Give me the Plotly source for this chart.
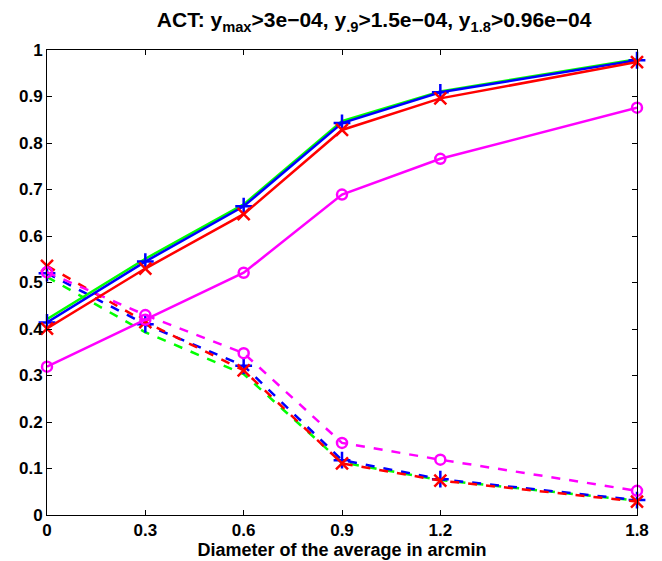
import plotly.graph_objects as go

x_vals = [0, 0.3, 0.6, 0.9, 1.2, 1.8]
x_ticks = [0, 0.3, 0.6, 0.9, 1.2, 1.8]
x_tick_text = ["0", "0.3", "0.6", "0.9", "1.2", "1.8"]
y_ticks = [0, 0.1, 0.2, 0.3, 0.4, 0.5, 0.6, 0.7, 0.8, 0.9, 1]
y_tick_text = ["0", "0.1", "0.2", "0.3", "0.4", "0.5", "0.6", "0.7", "0.8", "0.9", "1"]

green_solid = [0.421, 0.551, 0.668, 0.847, 0.911, 0.980]
blue_solid = [0.414, 0.545, 0.664, 0.843, 0.909, 0.978]
red_solid = [0.401, 0.530, 0.647, 0.828, 0.896, 0.974]
magenta_solid = [0.319, 0.420, 0.521, 0.689, 0.766, 0.876]

green_dashed = [0.512, 0.393, 0.303, 0.113, 0.075, 0.031]
blue_dashed = [0.520, 0.410, 0.321, 0.118, 0.077, 0.032]
red_dashed = [0.536, 0.415, 0.311, 0.111, 0.074, 0.029]
magenta_dashed = [0.522, 0.430, 0.348, 0.155, 0.119, 0.052]

title_text = "ACT: y<sub>max</sub>>3e\u221204, y<sub>.9</sub>>1.5e\u221204, y<sub>1.8</sub>>0.96e\u221204"
x_label = "Diameter of the average in arcmin"

series = [
    (green_dashed, "#00ff00", "dash", None),
    (blue_dashed, "#0000ff", "dash", "cross-thin-open"),
    (red_dashed, "#ff0000", "dash", "x-thin-open"),
    (magenta_dashed, "#ff00ff", "dash", "circle-open"),
    (green_solid, "#00ff00", "solid", None),
    (blue_solid, "#0000ff", "solid", "cross-thin-open"),
    (red_solid, "#ff0000", "solid", "x-thin-open"),
    (magenta_solid, "#ff00ff", "solid", "circle-open"),
]

fig = go.Figure()
for ys, color, dash, sym in series:
    if sym is None:
        fig.add_trace(go.Scatter(x=x_vals, y=ys, mode="lines",
                                 line=dict(color=color, width=2.5, dash=dash),
                                 showlegend=False, cliponaxis=False))
    else:
        size = 10 if sym == "circle-open" else 12
        fig.add_trace(go.Scatter(x=x_vals, y=ys, mode="lines+markers",
                                 line=dict(color=color, width=2.5, dash=dash),
                                 marker=dict(symbol=sym, size=size,
                                             line=dict(color=color, width=2.5), color=color),
                                 showlegend=False, cliponaxis=False))

axis_common = dict(
    showgrid=False, zeroline=False, showline=True, linecolor="black", linewidth=1,
    mirror="ticks", ticks="inside", ticklen=5, tickcolor="black",
    tickfont=dict(family="Liberation Sans", size=17, color="black", weight="bold"),
)

fig.update_layout(
    width=662, height=561,
    paper_bgcolor="white", plot_bgcolor="white",
    margin=dict(l=39, r=33, t=42, b=54),
    title=dict(text=title_text, x=367 / 662, xanchor="center",
               y=1 - 12 / 561, yanchor="middle", xref="paper",
               font=dict(family="Liberation Sans", size=21, color="black", weight="bold")),
    xaxis=dict(range=[0, 1.8], tickvals=x_ticks, ticktext=x_tick_text,
               title=dict(text=x_label, standoff=2,
                          font=dict(family="Liberation Sans", size=18, color="black", weight="bold")),
               **axis_common),
    yaxis=dict(range=[0, 1], tickvals=y_ticks, ticktext=y_tick_text, **axis_common),
)

fig.write_html("out.html")
